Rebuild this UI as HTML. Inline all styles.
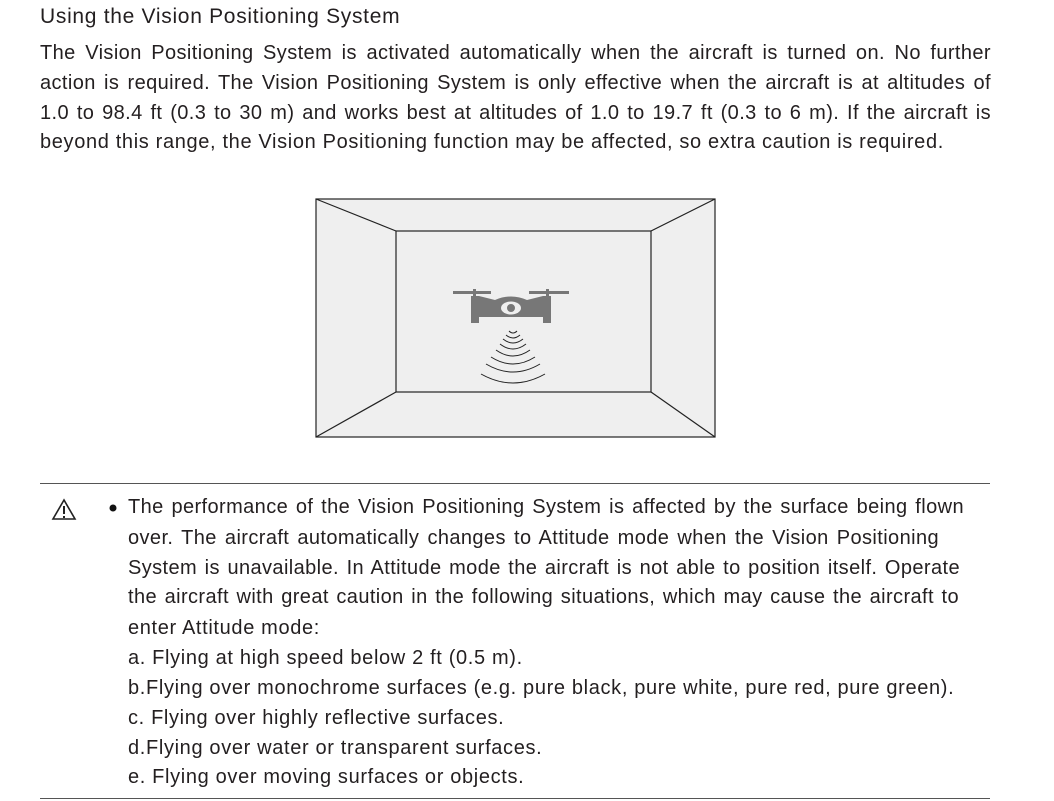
<!DOCTYPE html>
<html><head><meta charset="utf-8"><style>
body{margin:0;width:1054px;height:801px;background:#fff;position:relative;overflow:hidden;font-family:"Liberation Sans",sans-serif;color:#231f20}
.l{position:absolute;font-size:20px;line-height:30px;white-space:nowrap;letter-spacing:0.65px}
.j{text-align:justify;text-align-last:justify;letter-spacing:0.4px}
</style></head><body>
<div class="l" style="left:40px;top:2px;font-size:21px;letter-spacing:0.7px">Using the Vision Positioning System</div>
<div>
<div class="l j" style="left:40px;top:38px;width:951px">The Vision Positioning System is activated automatically when the aircraft is turned on. No further</div>
<div class="l j" style="left:40px;top:68px;width:951px">action is required. The Vision Positioning System is only effective when the aircraft is at altitudes of</div>
<div class="l j" style="left:40px;top:98px;width:951px">1.0 to 98.4 ft (0.3 to 30 m) and works best at altitudes of 1.0 to 19.7 ft (0.3 to 6 m). If the aircraft is</div>
<div class="l" style="left:40px;top:127px">beyond this range, the Vision Positioning function may be affected, so extra caution is required.</div>
</div>
<svg style="position:absolute;left:0;top:0" width="1054" height="801">
<rect x="316" y="199" width="399" height="238" fill="#efefef" stroke="#222" stroke-width="1.2"/>
<rect x="396" y="231" width="255" height="161" fill="#efefef" stroke="#222" stroke-width="1.2"/>
<line x1="316" y1="199" x2="396" y2="231" stroke="#222" stroke-width="1.2"/>
<line x1="715" y1="199" x2="651" y2="231" stroke="#222" stroke-width="1.2"/>
<line x1="316" y1="437" x2="396" y2="392" stroke="#222" stroke-width="1.2"/>
<line x1="715" y1="437" x2="651" y2="392" stroke="#222" stroke-width="1.2"/>
<g fill="#777" stroke="none">
<rect x="453" y="291" width="38" height="3"/><rect x="529" y="291" width="40" height="3"/>
<rect x="473" y="289" width="3" height="8"/><rect x="546" y="289" width="3" height="8"/>
<path d="M471 296 h8 L495 300 Q511 293 527 300 L543 296 h8 v27 h-8 v-6 L527 317 h-32 L479 317 v6 h-8 z"/>
<ellipse cx="511" cy="308" rx="10" ry="6.5" fill="#efefef"/><circle cx="511" cy="308" r="4"/>
</g>
<g fill="none" stroke="#222" stroke-width="1">
<path d="M509 331 q4 4 8 0"/><path d="M506 335 q7 6 14 0"/><path d="M503 339 q10 8 20 0"/>
<path d="M500 344 q13 10 26 0"/><path d="M496 350 q17 12 34 0"/><path d="M491 357 q22 14 44 0"/>
<path d="M486 364 q27 16 54 0"/><path d="M481 374 q32 18 64 0"/>
</g>
<line x1="40" y1="483.5" x2="990" y2="483.5" stroke="#555" stroke-width="1"/>
<line x1="40" y1="798.5" x2="990" y2="798.5" stroke="#555" stroke-width="1"/>
<g fill="none" stroke="#222" stroke-width="1.6">
<path d="M64 500 L53 519 L75 519 Z"/><line x1="64" y1="506" x2="64" y2="514" stroke-width="2"/><line x1="64" y1="516" x2="64" y2="518" stroke-width="2"/>
</g>
<circle cx="113" cy="508" r="3.5" fill="#111"/>
</svg>
<div>
<div class="l j" style="left:128px;top:492px;width:836px">The performance of the Vision Positioning System is affected by the surface being flown</div>
<div class="l j" style="left:128px;top:523px;width:811px">over. The aircraft automatically changes to Attitude mode when the Vision Positioning</div>
<div class="l j" style="left:128px;top:553px;width:832px">System is unavailable. In Attitude mode the aircraft is not able to position itself. Operate</div>
<div class="l j" style="left:128px;top:582px;width:831px">the aircraft with great caution in the following situations, which may cause the aircraft to</div>
<div class="l" style="left:128px;top:613px">enter Attitude mode:</div>
<div class="l" style="left:128px;top:643px">a. Flying at high speed below 2 ft (0.5 m).</div>
<div class="l" style="left:128px;top:673px">b.Flying over monochrome surfaces (e.g. pure black, pure white, pure red, pure green).</div>
<div class="l" style="left:128px;top:703px">c. Flying over highly reflective surfaces.</div>
<div class="l" style="left:128px;top:733px">d.Flying over water or transparent surfaces.</div>
<div class="l" style="left:128px;top:762px">e. Flying over moving surfaces or objects.</div>
</div>
</body></html>
